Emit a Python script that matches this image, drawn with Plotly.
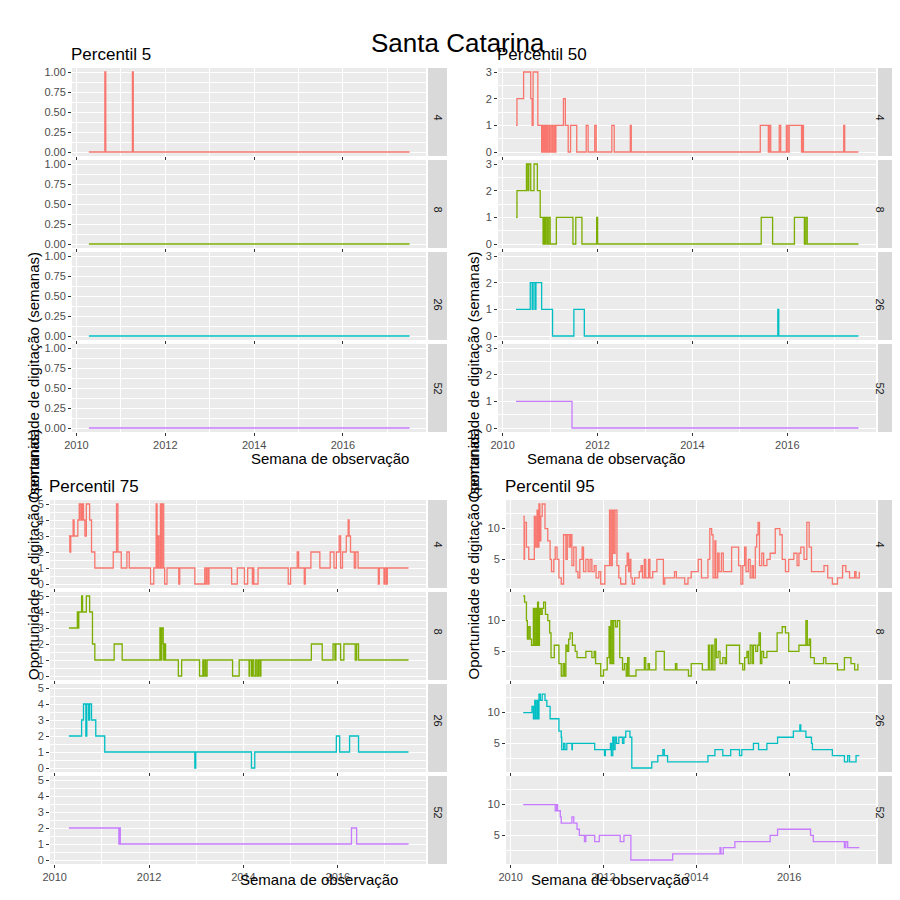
import plotly.graph_objects as go

# Santa Catarina - oportunidade de digitação por percentil e janela (semanas)
janelas = ["4", "8", "26", "52"]
cores = ["#F8766D", "#7CAE00", "#00BFC4", "#C77CFF"]

INICIO, FIM = 2010.28, 2017.5

# Percentil 5: pontos de mudança (ano, valor)
p5_4 = [(INICIO, 0), (2010.64, 1), (2010.66, 0), (2011.26, 1), (2011.28, 0), (FIM, 0)]
p5_8 = [(INICIO, 0), (FIM, 0)]
p5_26 = [(INICIO, 0), (FIM, 0)]
p5_52 = [(INICIO, 0), (FIM, 0)]

# Percentil 50
p50_4 = [(2010.28, 1), (2010.30, 2), (2010.44, 3), (2010.59, 2), (2010.62, 1), (2010.64, 3),
         (2010.74, 1), (2010.82, 0), (2010.84, 1), (2010.86, 0), (2010.88, 1), (2010.90, 0),
         (2010.92, 1), (2010.94, 0), (2010.97, 1), (2010.99, 0), (2011.02, 1), (2011.05, 0),
         (2011.08, 1), (2011.10, 0), (2011.12, 1), (2011.28, 2), (2011.32, 1), (2011.38, 0),
         (2011.43, 1), (2011.56, 0), (2011.76, 1), (2011.80, 0), (2011.94, 1), (2011.97, 0),
         (2012.30, 1), (2012.35, 0), (2012.69, 1), (2012.71, 0), (2015.43, 1), (2015.60, 0),
         (2015.62, 1), (2015.65, 0), (2015.83, 1), (2015.86, 0), (2015.98, 1), (2016.01, 0),
         (2016.04, 1), (2016.30, 0), (2016.32, 1), (2016.34, 0), (2017.19, 1), (2017.21, 0), (FIM, 0)]
p50_8 = [(2010.28, 1), (2010.30, 2), (2010.50, 3), (2010.53, 2), (2010.55, 3), (2010.59, 2),
         (2010.66, 3), (2010.73, 2), (2010.79, 1), (2010.85, 0), (2010.87, 1), (2010.89, 0),
         (2010.91, 1), (2010.94, 0), (2010.97, 1), (2011.00, 0), (2011.13, 1), (2011.48, 0),
         (2011.54, 1), (2011.67, 0), (2011.98, 1), (2012.00, 0), (2015.45, 1), (2015.69, 0),
         (2016.15, 1), (2016.36, 0), (2016.39, 1), (2016.42, 0), (FIM, 0)]
p50_26 = [(2010.28, 1), (2010.58, 2), (2010.62, 1), (2010.64, 2), (2010.68, 1), (2010.70, 2),
          (2010.82, 1), (2011.05, 0), (2011.50, 1), (2011.72, 0), (2015.80, 1), (2015.82, 0), (FIM, 0)]
p50_52 = [(2010.28, 1), (2011.46, 0), (FIM, 0)]

# Percentil 75
p75_4 = [(2010.30, 3), (2010.32, 2), (2010.34, 3), (2010.39, 4), (2010.41, 3), (2010.49, 4),
         (2010.52, 5), (2010.53, 4), (2010.54, 5), (2010.57, 4), (2010.59, 5), (2010.61, 4),
         (2010.64, 3), (2010.67, 5), (2010.74, 4), (2010.78, 2), (2010.85, 1), (2011.24, 2),
         (2011.31, 5), (2011.34, 2), (2011.41, 1), (2011.53, 2), (2011.58, 1), (2012.03, 0),
         (2012.10, 1), (2012.15, 5), (2012.17, 1), (2012.19, 3), (2012.21, 1), (2012.24, 5),
         (2012.26, 1), (2012.28, 5), (2012.31, 1), (2012.33, 0), (2012.38, 1), (2012.63, 0),
         (2012.65, 1), (2012.97, 0), (2013.18, 1), (2013.19, 0), (2013.22, 1), (2013.25, 0),
         (2013.27, 1), (2013.75, 0), (2013.87, 1), (2014.02, 0), (2014.09, 1), (2014.19, 0),
         (2014.20, 1), (2014.22, 0), (2014.31, 1), (2014.95, 0), (2015.00, 1), (2015.14, 2),
         (2015.17, 1), (2015.29, 0), (2015.31, 1), (2015.43, 2), (2015.62, 1), (2015.84, 2),
         (2015.92, 1), (2015.97, 2), (2016.03, 3), (2016.06, 1), (2016.10, 2), (2016.18, 3),
         (2016.22, 4), (2016.24, 3), (2016.27, 2), (2016.35, 1), (2016.38, 2), (2016.43, 1),
         (2016.86, 0), (2016.88, 1), (2016.98, 0), (2017.00, 1), (2017.03, 0), (2017.05, 1), (FIM, 1)]
p75_8 = [(2010.30, 3), (2010.48, 4), (2010.49, 3), (2010.51, 4), (2010.57, 5), (2010.59, 4),
         (2010.67, 5), (2010.74, 4), (2010.80, 2), (2010.85, 1), (2011.26, 2), (2011.43, 1),
         (2012.23, 3), (2012.25, 1), (2012.27, 3), (2012.30, 2), (2012.31, 1), (2012.33, 2),
         (2012.35, 1), (2012.62, 0), (2012.69, 1), (2013.07, 0), (2013.14, 1), (2013.16, 0),
         (2013.19, 1), (2013.20, 0), (2013.23, 1), (2013.77, 0), (2013.91, 1), (2014.12, 0),
         (2014.13, 1), (2014.17, 0), (2014.19, 1), (2014.22, 0), (2014.26, 1), (2014.29, 0),
         (2014.32, 1), (2014.35, 0), (2014.37, 1), (2015.44, 2), (2015.67, 1), (2015.90, 2),
         (2015.94, 1), (2015.96, 2), (2016.06, 1), (2016.13, 2), (2016.37, 1), (2016.40, 2),
         (2016.44, 1), (FIM, 1)]
p75_26 = [(2010.30, 2), (2010.57, 3), (2010.61, 4), (2010.66, 2), (2010.68, 4), (2010.72, 3),
          (2010.74, 4), (2010.78, 3), (2010.87, 2), (2011.06, 1), (2012.97, 0), (2012.99, 1),
          (2014.17, 0), (2014.24, 1), (2015.97, 2), (2016.04, 1), (2016.25, 2), (2016.44, 1), (FIM, 1)]
p75_52 = [(2010.30, 2), (2011.36, 1), (2011.37, 2), (2011.39, 1), (2016.29, 2), (2016.40, 1), (FIM, 1)]

# Percentil 95
p95_4 = [(2010.27, 12), (2010.29, 5), (2010.30, 11), (2010.34, 7), (2010.39, 5), (2010.51, 12),
         (2010.54, 7), (2010.57, 13), (2010.59, 7), (2010.61, 14), (2010.63, 8), (2010.65, 12),
         (2010.68, 14), (2010.74, 10), (2010.80, 8), (2010.85, 5), (2010.88, 3), (2010.93, 5),
         (2010.96, 7), (2011.00, 5), (2011.04, 2), (2011.09, 1), (2011.14, 9), (2011.19, 5),
         (2011.22, 9), (2011.26, 7), (2011.29, 9), (2011.32, 4), (2011.36, 7), (2011.41, 3),
         (2011.45, 2), (2011.49, 5), (2011.54, 7), (2011.57, 3), (2011.62, 5), (2011.67, 3),
         (2011.71, 5), (2011.75, 3), (2011.80, 4), (2011.84, 2), (2011.90, 3), (2011.94, 1),
         (2012.03, 4), (2012.13, 13), (2012.16, 4), (2012.19, 13), (2012.22, 6), (2012.25, 13),
         (2012.29, 4), (2012.33, 2), (2012.37, 1), (2012.48, 4), (2012.51, 6), (2012.54, 3),
         (2012.57, 5), (2012.59, 2), (2012.62, 1), (2012.67, 2), (2012.77, 3), (2012.81, 4),
         (2012.84, 2), (2012.88, 5), (2012.91, 2), (2012.97, 5), (2013.00, 2), (2013.06, 3),
         (2013.15, 5), (2013.29, 1), (2013.32, 2), (2013.53, 3), (2013.57, 2), (2013.75, 1),
         (2013.82, 2), (2013.89, 3), (2014.04, 5), (2014.11, 2), (2014.25, 5), (2014.29, 10),
         (2014.33, 9), (2014.36, 2), (2014.40, 8), (2014.42, 2), (2014.46, 6), (2014.49, 3),
         (2014.54, 6), (2014.58, 3), (2014.76, 7), (2014.91, 4), (2014.96, 1), (2015.00, 4),
         (2015.04, 7), (2015.07, 3), (2015.12, 5), (2015.16, 2), (2015.20, 4), (2015.23, 2),
         (2015.27, 7), (2015.30, 9), (2015.33, 11), (2015.36, 4), (2015.41, 6), (2015.45, 4),
         (2015.52, 5), (2015.59, 6), (2015.70, 10), (2015.80, 9), (2015.85, 5), (2015.92, 3),
         (2015.99, 5), (2016.10, 6), (2016.17, 4), (2016.21, 6), (2016.25, 7), (2016.32, 5),
         (2016.38, 11), (2016.43, 7), (2016.48, 3), (2016.75, 4), (2016.83, 2), (2016.93, 1),
         (2017.04, 2), (2017.15, 4), (2017.22, 3), (2017.30, 2), (2017.41, 3), (2017.44, 2), (2017.51, 3)]
p95_8 = [(2010.27, 14), (2010.30, 13), (2010.34, 10), (2010.36, 7), (2010.39, 9), (2010.42, 7),
         (2010.45, 6), (2010.49, 12), (2010.51, 6), (2010.54, 12), (2010.56, 6), (2010.58, 13),
         (2010.60, 6), (2010.62, 12), (2010.65, 11), (2010.68, 12), (2010.71, 13), (2010.75, 11),
         (2010.80, 10), (2010.84, 8), (2010.87, 4), (2010.94, 6), (2011.03, 6), (2011.04, 3),
         (2011.09, 1), (2011.13, 3), (2011.16, 1), (2011.19, 6), (2011.22, 5), (2011.25, 7),
         (2011.28, 8), (2011.33, 6), (2011.39, 5), (2011.43, 4), (2011.50, 4), (2011.62, 5),
         (2011.75, 4), (2011.80, 5), (2011.83, 3), (2011.94, 1), (2012.00, 2), (2012.08, 4),
         (2012.12, 9), (2012.14, 3), (2012.16, 10), (2012.19, 3), (2012.22, 10), (2012.26, 9),
         (2012.30, 10), (2012.35, 4), (2012.41, 2), (2012.45, 3), (2012.49, 1), (2012.52, 4),
         (2012.55, 1), (2012.61, 1), (2012.70, 2), (2012.88, 4), (2012.91, 2), (2012.96, 3),
         (2012.99, 2), (2013.13, 5), (2013.31, 2), (2013.55, 3), (2013.58, 2), (2013.83, 1),
         (2013.89, 3), (2014.13, 2), (2014.26, 6), (2014.29, 2), (2014.33, 6), (2014.36, 2),
         (2014.40, 7), (2014.43, 4), (2014.47, 5), (2014.51, 3), (2014.57, 4), (2014.62, 3),
         (2014.65, 6), (2014.80, 6), (2014.93, 3), (2015.00, 2), (2015.04, 4), (2015.09, 5),
         (2015.12, 3), (2015.16, 6), (2015.20, 3), (2015.23, 6), (2015.28, 5), (2015.32, 6),
         (2015.35, 8), (2015.38, 3), (2015.41, 5), (2015.45, 4), (2015.52, 5), (2015.74, 8),
         (2015.85, 9), (2015.92, 8), (2015.99, 5), (2016.21, 6), (2016.32, 6), (2016.36, 10),
         (2016.39, 6), (2016.43, 7), (2016.46, 4), (2016.54, 3), (2016.74, 4), (2016.79, 3),
         (2017.04, 2), (2017.19, 4), (2017.33, 3), (2017.41, 2), (2017.48, 3)]
p95_26 = [(2010.27, 10), (2010.43, 10), (2010.46, 11), (2010.49, 9), (2010.52, 12), (2010.54, 9),
          (2010.57, 12), (2010.59, 9), (2010.61, 13), (2010.64, 12), (2010.68, 13), (2010.74, 12),
          (2010.78, 11), (2010.85, 9), (2011.04, 7), (2011.09, 6), (2011.10, 4), (2011.14, 5),
          (2011.17, 4), (2011.21, 5), (2011.30, 5), (2011.32, 4), (2011.33, 5), (2011.81, 4),
          (2012.01, 4), (2012.02, 3), (2012.04, 4), (2012.12, 4), (2012.15, 5), (2012.17, 3),
          (2012.20, 6), (2012.22, 4), (2012.25, 6), (2012.28, 5), (2012.33, 6), (2012.41, 5),
          (2012.44, 6), (2012.48, 7), (2012.57, 6), (2012.61, 1), (2013.02, 1), (2013.04, 2),
          (2013.17, 3), (2013.28, 4), (2013.31, 3), (2013.38, 2), (2014.22, 2), (2014.25, 3),
          (2014.40, 4), (2014.57, 3), (2014.71, 3), (2014.74, 4), (2014.91, 4), (2014.93, 3),
          (2014.98, 4), (2015.20, 4), (2015.23, 5), (2015.32, 5), (2015.34, 4), (2015.49, 4),
          (2015.52, 5), (2015.72, 5), (2015.75, 6), (2016.07, 6), (2016.09, 7), (2016.23, 8),
          (2016.25, 7), (2016.36, 6), (2016.48, 5), (2016.50, 4), (2016.90, 4), (2016.93, 3),
          (2017.15, 3), (2017.19, 2), (2017.26, 3), (2017.30, 2), (2017.44, 3), (2017.51, 3)]
p95_52 = [(2010.27, 10), (2010.94, 10), (2010.96, 9), (2010.99, 10), (2011.01, 9), (2011.07, 8),
          (2011.09, 7), (2011.32, 8), (2011.36, 7), (2011.43, 6), (2011.48, 5), (2011.59, 4),
          (2011.62, 5), (2011.81, 4), (2011.91, 5), (2012.36, 4), (2012.44, 5), (2012.59, 1),
          (2013.49, 2), (2014.51, 3), (2014.53, 2), (2014.58, 3), (2014.83, 4), (2015.59, 5),
          (2015.75, 6), (2016.46, 5), (2016.52, 4), (2017.19, 3), (2017.22, 4), (2017.26, 3), (2017.51, 3)]

FONTE = "Liberation Sans"
W = H = 900

# (titulo, series, x pixels, linhas em pixels, faixa y, ticks y, texto ticks, minor)
topo = [(60, 148), (152, 240), (244, 332), (336, 424)]
base = [(492, 580), (584, 672), (676, 764), (768, 856)]
grupos = [
    ("Percentil 5", [p5_4, p5_8, p5_26, p5_52], (64, 418), topo, [-0.05, 1.05],
     [0, 0.25, 0.5, 0.75, 1], ["0.00", "0.25", "0.50", "0.75", "1.00"], (0.125, 0.25)),
    ("Percentil 50", [p50_4, p50_8, p50_26, p50_52], (490, 868), topo, [-0.15, 3.15],
     [0, 1, 2, 3], ["0", "1", "2", "3"], (0.5, 1)),
    ("Percentil 75", [p75_4, p75_8, p75_26, p75_52], (42, 418), base, [-0.25, 5.25],
     [0, 1, 2, 3, 4, 5], ["0", "1", "2", "3", "4", "5"], (0.5, 1)),
    ("Percentil 95", [p95_4, p95_8, p95_26, p95_52], (498, 868), base, [0.35, 14.65],
     [5, 10], ["5", "10"], (2.5, 5)),
]

fig = go.Figure()
anns, shapes = [], []
n = 0
for titulo, series, (xl, xr), linhas, yr, yt, ytt, (m0, md) in grupos:
    for i, serie in enumerate(series):
        n += 1
        top, bot = linhas[i]
        suf = "" if n == 1 else str(n)
        fig.add_trace(go.Scatter(
            x=[p[0] for p in serie], y=[p[1] for p in serie], mode="lines",
            line=dict(color=cores[i], width=1.3, shape="hv"),
            xaxis="x" + suf, yaxis="y" + suf, showlegend=False, hoverinfo="skip"))
        ultima = i == 3
        fig.layout["xaxis" + suf] = dict(
            domain=[xl / W, xr / W], anchor="y" + suf, range=[2009.9, 2017.87], automargin=False,
            tickvals=[2010, 2012, 2014, 2016], showticklabels=ultima,
            ticks="outside", ticklen=3, tickcolor="#333333", showline=False, zeroline=False,
            gridcolor="white", gridwidth=1.1,
            minor=dict(tickvals=[2011, 2013, 2015, 2017], showgrid=True, gridcolor="white",
                       gridwidth=0.5, ticklen=0),
            tickfont=dict(family=FONTE, size=11, color="#4D4D4D"))
        fig.layout["yaxis" + suf] = dict(
            domain=[1 - bot / H, 1 - top / H], anchor="x" + suf, range=yr, automargin=False,
            tickvals=yt, ticktext=ytt, ticks="outside", ticklen=3, tickcolor="#333333",
            zeroline=False, gridcolor="white", gridwidth=1.1,
            minor=dict(tick0=m0, dtick=md, showgrid=True, gridcolor="white", gridwidth=0.5, ticklen=0),
            tickfont=dict(family=FONTE, size=11, color="#4D4D4D"))
        shapes.append(dict(type="rect", xref="paper", yref="paper", x0=(xr + 2) / W, x1=(xr + 21) / W,
                           y0=1 - bot / H, y1=1 - top / H, fillcolor="#D9D9D9", line_width=0, layer="below"))
        anns.append(dict(text=janelas[i], xref="paper", yref="paper", x=(xr + 11.5) / W,
                         y=1 - (top + bot) / 2 / H, showarrow=False, textangle=90,
                         font=dict(family=FONTE, size=11, color="#1A1A1A")))
    # titulos do grupo
    anns.append(dict(text=titulo, xref="paper", yref="paper", x=(xl - 3) / W, y=1 - (linhas[0][0] - 14) / H,
                     xanchor="left", yanchor="middle", showarrow=False,
                     font=dict(family=FONTE, size=17, color="black")))
    anns.append(dict(text="Semana de observação", xref="paper", yref="paper", x=(xl + xr) / 2 / W,
                     y=1 - (linhas[3][1] + 26) / H, showarrow=False,
                     font=dict(family=FONTE, size=15, color="black")))
    anns.append(dict(text="Oportunidade de digitação (semanas)", xref="paper", yref="paper",
                     x=(15 if xl < 450 else 465) / W, y=1 - (linhas[0][0] + linhas[3][1]) / 2 / H,
                     showarrow=False, textangle=-90, font=dict(family=FONTE, size=15, color="black")))

anns.append(dict(text="Santa Catarina", xref="paper", yref="paper", x=0.5, y=1 - 18 / H, showarrow=False,
                 font=dict(family=FONTE, size=26, color="black")))

fig.update_layout(width=W, height=H, margin=dict(l=0, r=0, t=0, b=0, pad=0), autosize=False,
                  paper_bgcolor="white", plot_bgcolor="#EBEBEB",
                  annotations=anns, shapes=shapes, showlegend=False)
fig.write_html("out.html")
